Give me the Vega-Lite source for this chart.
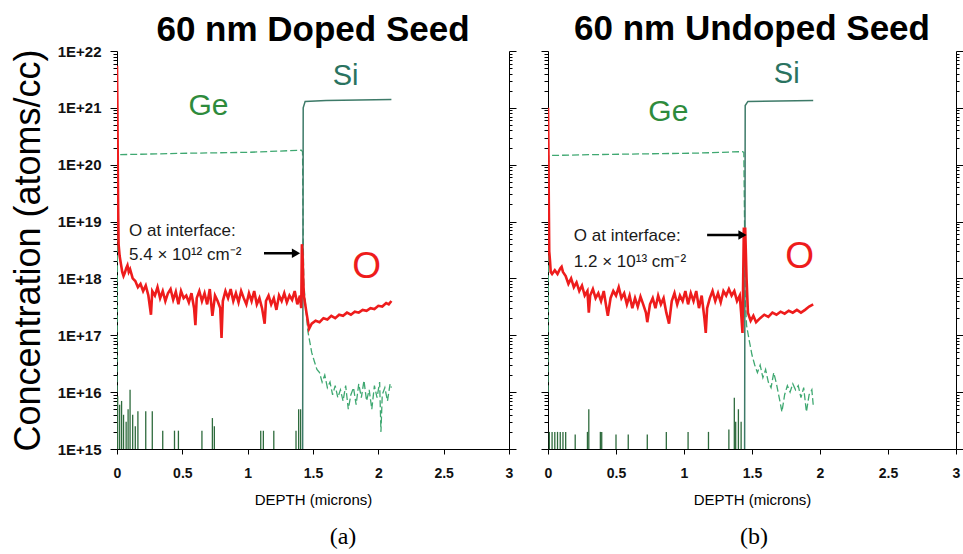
{
  "$schema": "https://vega.github.io/schema/vega-lite/v6.json",
  "background": "white",
  "padding": {"left": 10, "top": 11, "right": 5, "bottom": 5},
  "spacing": 23,
  "config": {
    "view": {"stroke": null},
    "axis": {"labelFont": "Liberation Sans", "titleFont": "Liberation Sans", "domainColor": "#000", "tickColor": "#000", "labelColor": "#111", "titleColor": "#000", "grid": false},
    "text": {"font": "Liberation Sans"}
  },
  "datasets": {
    "A": [
      {"s":"Ge","d":0,"c":1e16},{"s":"Ge","d":0.005,"c":1.5e20},{"s":"Ge","d":0.3,"c":1.55e20},{"s":"Ge","d":0.6,"c":1.6e20},{"s":"Ge","d":1.0,"c":1.65e20},{"s":"Ge","d":1.41,"c":1.8e20},{"s":"Ge","d":1.42,"c":1.7e20},{"s":"Ge","d":1.425,"c":5e18},{"s":"Ge","d":1.43,"c":8e17},{"s":"Ge","d":1.445,"c":3e17},{"s":"Ge","d":1.46,"c":1.2e17},{"s":"Ge","d":1.47,"c":9e16},{"s":"Ge","d":1.49,"c":5e16},{"s":"Ge","d":1.51,"c":3.5e16},{"s":"Ge","d":1.53,"c":2.5e16},{"s":"Ge","d":1.55,"c":2.2e16},{"s":"Ge","d":1.57,"c":1.5e16},{"s":"Ge","d":1.59,"c":2e16},{"s":"Ge","d":1.61,"c":1.2e16},{"s":"Ge","d":1.63,"c":1.5e16},{"s":"Ge","d":1.65,"c":9e15},{"s":"Ge","d":1.67,"c":1.3e16},{"s":"Ge","d":1.69,"c":8e15},{"s":"Ge","d":1.71,"c":1.1e16},{"s":"Ge","d":1.73,"c":7e15},{"s":"Ge","d":1.75,"c":1.3e16},{"s":"Ge","d":1.77,"c":5e15},{"s":"Ge","d":1.79,"c":9e15},{"s":"Ge","d":1.81,"c":1.2e16},{"s":"Ge","d":1.83,"c":6e15},{"s":"Ge","d":1.85,"c":1.4e16},{"s":"Ge","d":1.87,"c":8e15},{"s":"Ge","d":1.89,"c":1.6e16},{"s":"Ge","d":1.91,"c":7e15},{"s":"Ge","d":1.93,"c":1.1e16},{"s":"Ge","d":1.95,"c":5e15},{"s":"Ge","d":1.97,"c":1.3e16},{"s":"Ge","d":1.99,"c":8e15},{"s":"Ge","d":2.01,"c":1.5e16},{"s":"Ge","d":2.02,"c":2e15},{"s":"Ge","d":2.03,"c":9e15},{"s":"Ge","d":2.05,"c":1.2e16},{"s":"Ge","d":2.07,"c":7e15},{"s":"Ge","d":2.09,"c":1.4e16},{"s":"Ge","d":2.1,"c":1.2e16},
      {"s":"Si","d":1.42,"c":1e14},{"s":"Si","d":1.425,"c":1e21},{"s":"Si","d":1.44,"c":1.3e21},{"s":"Si","d":1.6,"c":1.35e21},{"s":"Si","d":2.1,"c":1.4e21},
      {"s":"O","d":0,"c":5.5e21},{"s":"O","d":0.003,"c":1e21},{"s":"O","d":0.006,"c":1e20},{"s":"O","d":0.009,"c":1.5e19},{"s":"O","d":0.012,"c":4e18},{"s":"O","d":0.02,"c":2.5e18},{"s":"O","d":0.03,"c":1.8e18},{"s":"O","d":0.04,"c":1.3e18},{"s":"O","d":0.05,"c":1.1e18},{"s":"O","d":0.06,"c":1.25e18},{"s":"O","d":0.07,"c":1.5e18},{"s":"O","d":0.08,"c":1.7e18},{"s":"O","d":0.09,"c":1.3e18},{"s":"O","d":0.1,"c":1.45e18},{"s":"O","d":0.12,"c":1e18},{"s":"O","d":0.14,"c":9e17},{"s":"O","d":0.16,"c":7e17},{"s":"O","d":0.18,"c":8e17},{"s":"O","d":0.2,"c":6e17},{"s":"O","d":0.22,"c":7.5e17},{"s":"O","d":0.24,"c":5e17},{"s":"O","d":0.26,"c":2.3e17},{"s":"O","d":0.27,"c":6e17},{"s":"O","d":0.29,"c":5e17},{"s":"O","d":0.31,"c":7e17},{"s":"O","d":0.33,"c":4.5e17},{"s":"O","d":0.35,"c":6e17},{"s":"O","d":0.37,"c":4e17},{"s":"O","d":0.39,"c":5.5e17},{"s":"O","d":0.41,"c":6.5e17},{"s":"O","d":0.43,"c":4.2e17},{"s":"O","d":0.45,"c":5.8e17},{"s":"O","d":0.47,"c":3.5e17},{"s":"O","d":0.49,"c":6e17},{"s":"O","d":0.51,"c":4.5e17},{"s":"O","d":0.53,"c":5e17},{"s":"O","d":0.55,"c":3.8e17},{"s":"O","d":0.57,"c":5.5e17},{"s":"O","d":0.59,"c":3e17},{"s":"O","d":0.6,"c":1.5e17},{"s":"O","d":0.61,"c":4.5e17},{"s":"O","d":0.63,"c":6e17},{"s":"O","d":0.65,"c":4e17},{"s":"O","d":0.67,"c":5.5e17},{"s":"O","d":0.69,"c":3.5e17},{"s":"O","d":0.71,"c":6.5e17},{"s":"O","d":0.73,"c":2.2e17},{"s":"O","d":0.75,"c":5e17},{"s":"O","d":0.77,"c":4e17},{"s":"O","d":0.79,"c":3e17},{"s":"O","d":0.8,"c":9e16},{"s":"O","d":0.81,"c":4e17},{"s":"O","d":0.83,"c":6e17},{"s":"O","d":0.85,"c":4.5e17},{"s":"O","d":0.87,"c":6.5e17},{"s":"O","d":0.89,"c":4e17},{"s":"O","d":0.91,"c":5.5e17},{"s":"O","d":0.93,"c":3.8e17},{"s":"O","d":0.95,"c":6e17},{"s":"O","d":0.97,"c":4.5e17},{"s":"O","d":0.99,"c":3.5e17},{"s":"O","d":1.01,"c":5.5e17},{"s":"O","d":1.03,"c":4e17},{"s":"O","d":1.05,"c":6e17},{"s":"O","d":1.07,"c":3.5e17},{"s":"O","d":1.09,"c":4.5e17},{"s":"O","d":1.11,"c":3e17},{"s":"O","d":1.13,"c":1.6e17},{"s":"O","d":1.14,"c":4e17},{"s":"O","d":1.16,"c":5e17},{"s":"O","d":1.18,"c":3.5e17},{"s":"O","d":1.2,"c":4.5e17},{"s":"O","d":1.22,"c":2.8e17},{"s":"O","d":1.24,"c":5e17},{"s":"O","d":1.26,"c":4e17},{"s":"O","d":1.28,"c":5.5e17},{"s":"O","d":1.3,"c":3.8e17},{"s":"O","d":1.32,"c":5e17},{"s":"O","d":1.34,"c":4.2e17},{"s":"O","d":1.36,"c":6e17},{"s":"O","d":1.38,"c":3.5e17},{"s":"O","d":1.4,"c":5e17},{"s":"O","d":1.41,"c":3e17},{"s":"O","d":1.415,"c":4e18},{"s":"O","d":1.42,"c":2.5e18},{"s":"O","d":1.425,"c":1e18},{"s":"O","d":1.43,"c":5e17},{"s":"O","d":1.45,"c":2.5e17},{"s":"O","d":1.47,"c":1.3e17},{"s":"O","d":1.49,"c":1.6e17},{"s":"O","d":1.52,"c":1.8e17},{"s":"O","d":1.55,"c":1.7e17},{"s":"O","d":1.58,"c":2e17},{"s":"O","d":1.61,"c":1.9e17},{"s":"O","d":1.64,"c":2.2e17},{"s":"O","d":1.67,"c":2e17},{"s":"O","d":1.7,"c":2.3e17},{"s":"O","d":1.73,"c":2.2e17},{"s":"O","d":1.76,"c":2.5e17},{"s":"O","d":1.79,"c":2.3e17},{"s":"O","d":1.82,"c":2.6e17},{"s":"O","d":1.85,"c":2.5e17},{"s":"O","d":1.88,"c":2.8e17},{"s":"O","d":1.91,"c":2.7e17},{"s":"O","d":1.94,"c":3e17},{"s":"O","d":1.97,"c":2.9e17},{"s":"O","d":2.0,"c":3.3e17},{"s":"O","d":2.03,"c":3.2e17},{"s":"O","d":2.06,"c":3.7e17},{"s":"O","d":2.08,"c":3.5e17},{"s":"O","d":2.1,"c":4e17},
      {"s":"spk","d":0.005,"c":8.5e15},{"s":"spk","d":0.02,"c":6e15},{"s":"spk","d":0.035,"c":7e15},{"s":"spk","d":0.05,"c":4e15},{"s":"spk","d":0.07,"c":3e15},{"s":"spk","d":0.085,"c":5e15},{"s":"spk","d":0.1,"c":1.1e16},{"s":"spk","d":0.12,"c":4e15},{"s":"spk","d":0.14,"c":2.5e15},{"s":"spk","d":0.16,"c":4.6e15},{"s":"spk","d":0.22,"c":4.6e15},{"s":"spk","d":0.27,"c":4.6e15},{"s":"spk","d":0.35,"c":2.1e15},{"s":"spk","d":0.44,"c":2.1e15},{"s":"spk","d":0.47,"c":2.1e15},{"s":"spk","d":0.65,"c":2.1e15},{"s":"spk","d":0.73,"c":3.5e15},{"s":"spk","d":0.745,"c":2.5e15},{"s":"spk","d":1.1,"c":2.1e15},{"s":"spk","d":1.12,"c":2.1e15},{"s":"spk","d":1.2,"c":2.1e15},{"s":"spk","d":1.37,"c":2.1e15},{"s":"spk","d":1.39,"c":5e15},{"s":"spk","d":1.405,"c":5e15}
    ],
    "B": [
      {"s":"Ge","d":0,"c":1e16},{"s":"Ge","d":0.005,"c":1.45e20},{"s":"Ge","d":0.3,"c":1.5e20},{"s":"Ge","d":0.7,"c":1.55e20},{"s":"Ge","d":1.1,"c":1.6e20},{"s":"Ge","d":1.43,"c":1.7e20},{"s":"Ge","d":1.44,"c":1.65e20},{"s":"Ge","d":1.445,"c":1e19},{"s":"Ge","d":1.45,"c":5e17},{"s":"Ge","d":1.46,"c":1.5e17},{"s":"Ge","d":1.48,"c":8e16},{"s":"Ge","d":1.5,"c":4.5e16},{"s":"Ge","d":1.52,"c":3e16},{"s":"Ge","d":1.54,"c":2.2e16},{"s":"Ge","d":1.56,"c":3e16},{"s":"Ge","d":1.58,"c":1.8e16},{"s":"Ge","d":1.6,"c":2.5e16},{"s":"Ge","d":1.62,"c":1.5e16},{"s":"Ge","d":1.64,"c":1.2e16},{"s":"Ge","d":1.66,"c":2.2e16},{"s":"Ge","d":1.68,"c":1.4e16},{"s":"Ge","d":1.7,"c":8e15},{"s":"Ge","d":1.72,"c":4.5e15},{"s":"Ge","d":1.74,"c":9e15},{"s":"Ge","d":1.76,"c":1.3e16},{"s":"Ge","d":1.78,"c":1e16},{"s":"Ge","d":1.8,"c":1.4e16},{"s":"Ge","d":1.82,"c":1.1e16},{"s":"Ge","d":1.84,"c":1.3e16},{"s":"Ge","d":1.86,"c":8e15},{"s":"Ge","d":1.88,"c":1.2e16},{"s":"Ge","d":1.9,"c":4.5e15},{"s":"Ge","d":1.92,"c":9e15},{"s":"Ge","d":1.94,"c":1.1e16},{"s":"Ge","d":1.95,"c":6e15},
      {"s":"Si","d":1.445,"c":1e14},{"s":"Si","d":1.45,"c":1.1e21},{"s":"Si","d":1.47,"c":1.3e21},{"s":"Si","d":1.95,"c":1.35e21},
      {"s":"O","d":0,"c":1e21},{"s":"O","d":0.003,"c":2e20},{"s":"O","d":0.006,"c":2e19},{"s":"O","d":0.009,"c":3e18},{"s":"O","d":0.015,"c":2e18},{"s":"O","d":0.02,"c":1.3e18},{"s":"O","d":0.03,"c":1.2e18},{"s":"O","d":0.05,"c":1.4e18},{"s":"O","d":0.07,"c":1.2e18},{"s":"O","d":0.09,"c":1.5e18},{"s":"O","d":0.1,"c":1.6e18},{"s":"O","d":0.11,"c":1.3e18},{"s":"O","d":0.13,"c":1.1e18},{"s":"O","d":0.15,"c":8e17},{"s":"O","d":0.17,"c":1e18},{"s":"O","d":0.19,"c":7e17},{"s":"O","d":0.21,"c":8.5e17},{"s":"O","d":0.23,"c":6e17},{"s":"O","d":0.25,"c":7.5e17},{"s":"O","d":0.27,"c":5e17},{"s":"O","d":0.29,"c":6e17},{"s":"O","d":0.3,"c":2.5e17},{"s":"O","d":0.31,"c":5e17},{"s":"O","d":0.33,"c":6.5e17},{"s":"O","d":0.35,"c":4.5e17},{"s":"O","d":0.37,"c":5.5e17},{"s":"O","d":0.39,"c":4e17},{"s":"O","d":0.41,"c":6e17},{"s":"O","d":0.43,"c":3e17},{"s":"O","d":0.44,"c":2.2e17},{"s":"O","d":0.46,"c":4.5e17},{"s":"O","d":0.48,"c":6e17},{"s":"O","d":0.5,"c":5e17},{"s":"O","d":0.52,"c":7e17},{"s":"O","d":0.54,"c":4.5e17},{"s":"O","d":0.56,"c":5.5e17},{"s":"O","d":0.58,"c":3.5e17},{"s":"O","d":0.6,"c":5e17},{"s":"O","d":0.62,"c":3e17},{"s":"O","d":0.64,"c":4.5e17},{"s":"O","d":0.66,"c":3.2e17},{"s":"O","d":0.68,"c":4.8e17},{"s":"O","d":0.7,"c":3.5e17},{"s":"O","d":0.72,"c":2.5e17},{"s":"O","d":0.73,"c":1.7e17},{"s":"O","d":0.75,"c":3.5e17},{"s":"O","d":0.77,"c":4.5e17},{"s":"O","d":0.79,"c":3e17},{"s":"O","d":0.81,"c":5e17},{"s":"O","d":0.83,"c":3.5e17},{"s":"O","d":0.85,"c":4.5e17},{"s":"O","d":0.87,"c":2.5e17},{"s":"O","d":0.89,"c":1.6e17},{"s":"O","d":0.91,"c":4e17},{"s":"O","d":0.93,"c":5.5e17},{"s":"O","d":0.95,"c":3.5e17},{"s":"O","d":0.97,"c":5e17},{"s":"O","d":0.99,"c":4e17},{"s":"O","d":1.01,"c":6e17},{"s":"O","d":1.03,"c":3.5e17},{"s":"O","d":1.05,"c":5.5e17},{"s":"O","d":1.07,"c":4e17},{"s":"O","d":1.09,"c":6e17},{"s":"O","d":1.11,"c":3e17},{"s":"O","d":1.13,"c":5e17},{"s":"O","d":1.15,"c":2e17},{"s":"O","d":1.16,"c":1.1e17},{"s":"O","d":1.17,"c":3e17},{"s":"O","d":1.19,"c":4.5e17},{"s":"O","d":1.21,"c":6e17},{"s":"O","d":1.23,"c":4e17},{"s":"O","d":1.25,"c":5.5e17},{"s":"O","d":1.27,"c":3.8e17},{"s":"O","d":1.29,"c":6e17},{"s":"O","d":1.31,"c":5e17},{"s":"O","d":1.33,"c":6.5e17},{"s":"O","d":1.35,"c":5e17},{"s":"O","d":1.37,"c":6e17},{"s":"O","d":1.39,"c":4e17},{"s":"O","d":1.41,"c":5e17},{"s":"O","d":1.42,"c":2.5e17},{"s":"O","d":1.43,"c":1.1e17},{"s":"O","d":1.44,"c":7.5e18},{"s":"O","d":1.45,"c":7.5e18},{"s":"O","d":1.46,"c":1e18},{"s":"O","d":1.47,"c":2.5e17},{"s":"O","d":1.49,"c":1.8e17},{"s":"O","d":1.51,"c":2.2e17},{"s":"O","d":1.53,"c":1.7e17},{"s":"O","d":1.56,"c":2e17},{"s":"O","d":1.59,"c":2.3e17},{"s":"O","d":1.62,"c":2.1e17},{"s":"O","d":1.65,"c":2.5e17},{"s":"O","d":1.68,"c":2.3e17},{"s":"O","d":1.71,"c":2.6e17},{"s":"O","d":1.74,"c":2.4e17},{"s":"O","d":1.77,"c":2.7e17},{"s":"O","d":1.8,"c":2.5e17},{"s":"O","d":1.83,"c":2.8e17},{"s":"O","d":1.86,"c":2.5e17},{"s":"O","d":1.89,"c":2.8e17},{"s":"O","d":1.92,"c":3.2e17},{"s":"O","d":1.95,"c":3.5e17},
      {"s":"spk","d":0.01,"c":2e15},{"s":"spk","d":0.03,"c":2e15},{"s":"spk","d":0.05,"c":2e15},{"s":"spk","d":0.07,"c":2e15},{"s":"spk","d":0.09,"c":2e15},{"s":"spk","d":0.11,"c":2e15},{"s":"spk","d":0.13,"c":2e15},{"s":"spk","d":0.2,"c":1.8e15},{"s":"spk","d":0.29,"c":2e15},{"s":"spk","d":0.3,"c":5e15},{"s":"spk","d":0.385,"c":2e15},{"s":"spk","d":0.395,"c":2e15},{"s":"spk","d":0.5,"c":1.8e15},{"s":"spk","d":0.59,"c":1.8e15},{"s":"spk","d":0.73,"c":1.8e15},{"s":"spk","d":0.87,"c":2e15},{"s":"spk","d":1.03,"c":2e15},{"s":"spk","d":1.18,"c":2e15},{"s":"spk","d":1.33,"c":2.2e15},{"s":"spk","d":1.37,"c":8e15},{"s":"spk","d":1.38,"c":3e15},{"s":"spk","d":1.4,"c":5e15},{"s":"spk","d":1.42,"c":3e15}
    ],
    "LA": [
      {"k":"ge","t":"Ge","d":0.7,"c":1.07e21},
      {"k":"si","t":"Si","d":1.75,"c":3.7e21},
      {"k":"o","t":"O","d":1.91,"c":1.6e18},
      {"k":"note","t":"O at interface:","d":0.092,"c":6.8e18},
      {"k":"note","t":"5.4 × 10¹² cm⁻²","d":0.092,"c":2.57e18},
      {"k":"arrow","t":"","d":1.125,"d2":1.37,"c":2.76e18}
    ],
    "LB": [
      {"k":"ge","t":"Ge","d":0.885,"c":8.5e20},
      {"k":"si","t":"Si","d":1.755,"c":3.9e21},
      {"k":"o","t":"O","d":1.85,"c":2.4e18},
      {"k":"note","t":"O at interface:","d":0.19,"c":5.5e18},
      {"k":"note","t":"1.2 × 10¹³ cm⁻²","d":0.19,"c":1.95e18},
      {"k":"arrow","t":"","d":1.17,"d2":1.43,"c":5.8e18}
    ]
  },
  "hconcat": [
    {
      "title": {"text": "(a)", "orient": "bottom", "font": "Liberation Serif", "fontSize": 24, "fontWeight": "normal", "color": "#000", "offset": 18, "anchor": "middle", "frame": "group", "dx": 226},
      "vconcat": [
        {
          "width": 392, "height": 398,
          "title": {"text": "60 nm Doped Seed", "font": "Liberation Sans", "fontSize": 35, "fontWeight": "bold", "color": "#000", "frame": "group", "anchor": "middle", "offset": -4},
          "data": {"name": "A"},
          "encoding": {
            "x": {"field": "d", "type": "quantitative", "scale": {"domain": [0, 3], "nice": false},
                  "axis": {"values": [0, 0.5, 1, 1.5, 2, 2.5, 3], "format": "~g", "title": "DEPTH (microns)", "labelFontSize": 14, "labelFontWeight": "bold", "labelPadding": 12, "tickSize": 5, "titleFontSize": 15, "titleFontWeight": "normal", "titlePadding": 12, "labelFlush": false}}
          },
          "layer": [
            {"transform": [{"filter": "datum.s === 'Ge'"}],
             "mark": {"type": "line", "clip": true, "color": "#3fa871", "strokeWidth": 1.3, "strokeDash": [7, 3]},
             "encoding": {"y": {"field": "c", "type": "quantitative", "scale": {"type": "log", "domain": [1e15, 1e22], "nice": false},
               "axis": {"orient": "left", "title": "Concentration (atoms/cc)", "titleFontSize": 36, "titleFontWeight": "normal", "titlePadding": 10, "labelFontSize": 15, "labelFontWeight": "bold", "labelPadding": 9, "labelOverlap": false, "labelFlush": false,
                 "values": [1e15,2e15,3e15,4e15,5e15,6e15,7e15,8e15,9e15,1e16,2e16,3e16,4e16,5e16,6e16,7e16,8e16,9e16,1e17,2e17,3e17,4e17,5e17,6e17,7e17,8e17,9e17,1e18,2e18,3e18,4e18,5e18,6e18,7e18,8e18,9e18,1e19,2e19,3e19,4e19,5e19,6e19,7e19,8e19,9e19,1e20,2e20,3e20,4e20,5e20,6e20,7e20,8e20,9e20,1e21,2e21,3e21,4e21,5e21,6e21,7e21,8e21,9e21,1e22],
                 "labelExpr": "abs(log(datum.value)/LN10 - round(log(datum.value)/LN10)) < 0.001 ? '1E+' + round(log(datum.value)/LN10) : ''",
                 "tickSize": {"condition": {"test": "abs(log(datum.value)/LN10 - round(log(datum.value)/LN10)) < 0.001", "value": 7}, "value": 4}}}}},
            {"transform": [{"filter": "datum.s === 'Si'"}],
             "mark": {"type": "line", "clip": true, "color": "#3d7a68", "strokeWidth": 1.5},
             "encoding": {"y": {"field": "c", "type": "quantitative",
               "axis": {"orient": "right", "title": null, "labels": false,
                 "values": [1e15,2e15,3e15,4e15,5e15,6e15,7e15,8e15,9e15,1e16,2e16,3e16,4e16,5e16,6e16,7e16,8e16,9e16,1e17,2e17,3e17,4e17,5e17,6e17,7e17,8e17,9e17,1e18,2e18,3e18,4e18,5e18,6e18,7e18,8e18,9e18,1e19,2e19,3e19,4e19,5e19,6e19,7e19,8e19,9e19,1e20,2e20,3e20,4e20,5e20,6e20,7e20,8e20,9e20,1e21,2e21,3e21,4e21,5e21,6e21,7e21,8e21,9e21,1e22],
                 "tickSize": {"condition": {"test": "abs(log(datum.value)/LN10 - round(log(datum.value)/LN10)) < 0.001", "value": 7}, "value": 3}}}}},
            {"transform": [{"filter": "datum.s === 'spk'"}],
             "mark": {"type": "rule", "clip": true, "color": "#2e6b3d", "strokeWidth": 1.3},
             "encoding": {"y": {"field": "c", "type": "quantitative", "axis": null}, "y2": {"datum": 1e15}}},
            {"transform": [{"filter": "datum.s === 'O'"}],
             "mark": {"type": "line", "clip": true, "color": "#ee1c1c", "strokeWidth": 2.6},
             "encoding": {"y": {"field": "c", "type": "quantitative", "axis": null}}},
            {"data": {"name": "LA"}, "transform": [{"filter": "datum.k === 'ge'"}],
             "mark": {"type": "text", "fontSize": 30, "color": "#2e8b3c", "align": "center", "baseline": "middle"},
             "encoding": {"y": {"field": "c", "type": "quantitative", "axis": null}, "text": {"field": "t"}}},
            {"data": {"name": "LA"}, "transform": [{"filter": "datum.k === 'si'"}],
             "mark": {"type": "text", "fontSize": 29, "color": "#2a7360", "align": "center", "baseline": "middle"},
             "encoding": {"y": {"field": "c", "type": "quantitative", "axis": null}, "text": {"field": "t"}}},
            {"data": {"name": "LA"}, "transform": [{"filter": "datum.k === 'o'"}],
             "mark": {"type": "text", "fontSize": 37, "color": "#ee1c1c", "align": "center", "baseline": "middle"},
             "encoding": {"y": {"field": "c", "type": "quantitative", "axis": null}, "text": {"field": "t"}}},
            {"data": {"name": "LA"}, "transform": [{"filter": "datum.k === 'note'"}],
             "mark": {"type": "text", "fontSize": 17, "color": "#1a1a1a", "align": "left", "baseline": "middle"},
             "encoding": {"y": {"field": "c", "type": "quantitative", "axis": null}, "text": {"field": "t"}}},
            {"data": {"name": "LA"}, "transform": [{"filter": "datum.k === 'arrow'"}],
             "mark": {"type": "rule", "color": "#000", "strokeWidth": 2.5},
             "encoding": {"y": {"field": "c", "type": "quantitative", "axis": null}, "x2": {"field": "d2"}}},
            {"data": {"name": "LA"}, "transform": [{"filter": "datum.k === 'arrow'"}],
             "mark": {"type": "point", "shape": "triangle-right", "filled": true, "color": "#000", "opacity": 1, "size": 90},
             "encoding": {"x": {"field": "d2", "type": "quantitative"}, "y": {"field": "c", "type": "quantitative", "axis": null}}}
          ],
          "resolve": {"axis": {"y": "independent"}}
        }
      ]
    },
    {
      "title": {"text": "(b)", "orient": "bottom", "font": "Liberation Serif", "fontSize": 24, "fontWeight": "normal", "color": "#000", "offset": 18, "anchor": "middle", "frame": "group", "dx": 206},
      "vconcat": [
        {
          "width": 408, "height": 398,
          "title": {"text": "60 nm Undoped Seed", "font": "Liberation Sans", "fontSize": 35, "fontWeight": "bold", "color": "#000", "frame": "group", "anchor": "middle", "offset": 4},
          "data": {"name": "B"},
          "encoding": {
            "x": {"field": "d", "type": "quantitative", "scale": {"domain": [0, 3], "nice": false},
                  "axis": {"values": [0, 0.5, 1, 1.5, 2, 2.5, 3], "format": "~g", "title": "DEPTH (microns)", "labelFontSize": 14, "labelFontWeight": "bold", "labelPadding": 12, "tickSize": 5, "titleFontSize": 15, "titleFontWeight": "normal", "titlePadding": 12, "labelFlush": false}}
          },
          "layer": [
            {"transform": [{"filter": "datum.s === 'Ge'"}],
             "mark": {"type": "line", "clip": true, "color": "#3fa871", "strokeWidth": 1.3, "strokeDash": [7, 3]},
             "encoding": {"y": {"field": "c", "type": "quantitative", "scale": {"type": "log", "domain": [1e15, 1e22], "nice": false},
               "axis": {"orient": "left", "title": null, "labels": false,
                 "values": [1e15,2e15,3e15,4e15,5e15,6e15,7e15,8e15,9e15,1e16,2e16,3e16,4e16,5e16,6e16,7e16,8e16,9e16,1e17,2e17,3e17,4e17,5e17,6e17,7e17,8e17,9e17,1e18,2e18,3e18,4e18,5e18,6e18,7e18,8e18,9e18,1e19,2e19,3e19,4e19,5e19,6e19,7e19,8e19,9e19,1e20,2e20,3e20,4e20,5e20,6e20,7e20,8e20,9e20,1e21,2e21,3e21,4e21,5e21,6e21,7e21,8e21,9e21,1e22],
                 "tickSize": {"condition": {"test": "abs(log(datum.value)/LN10 - round(log(datum.value)/LN10)) < 0.001", "value": 7}, "value": 4}}}}},
            {"transform": [{"filter": "datum.s === 'Si'"}],
             "mark": {"type": "line", "clip": true, "color": "#3d7a68", "strokeWidth": 1.5},
             "encoding": {"y": {"field": "c", "type": "quantitative",
               "axis": {"orient": "right", "title": null, "labels": false,
                 "values": [1e15,2e15,3e15,4e15,5e15,6e15,7e15,8e15,9e15,1e16,2e16,3e16,4e16,5e16,6e16,7e16,8e16,9e16,1e17,2e17,3e17,4e17,5e17,6e17,7e17,8e17,9e17,1e18,2e18,3e18,4e18,5e18,6e18,7e18,8e18,9e18,1e19,2e19,3e19,4e19,5e19,6e19,7e19,8e19,9e19,1e20,2e20,3e20,4e20,5e20,6e20,7e20,8e20,9e20,1e21,2e21,3e21,4e21,5e21,6e21,7e21,8e21,9e21,1e22],
                 "tickSize": {"condition": {"test": "abs(log(datum.value)/LN10 - round(log(datum.value)/LN10)) < 0.001", "value": 7}, "value": 3}}}}},
            {"transform": [{"filter": "datum.s === 'spk'"}],
             "mark": {"type": "rule", "clip": true, "color": "#2e6b3d", "strokeWidth": 1.3},
             "encoding": {"y": {"field": "c", "type": "quantitative", "axis": null}, "y2": {"datum": 1e15}}},
            {"transform": [{"filter": "datum.s === 'O'"}],
             "mark": {"type": "line", "clip": true, "color": "#ee1c1c", "strokeWidth": 2.6},
             "encoding": {"y": {"field": "c", "type": "quantitative", "axis": null}}},
            {"data": {"name": "LB"}, "transform": [{"filter": "datum.k === 'ge'"}],
             "mark": {"type": "text", "fontSize": 30, "color": "#2e8b3c", "align": "center", "baseline": "middle"},
             "encoding": {"y": {"field": "c", "type": "quantitative", "axis": null}, "text": {"field": "t"}}},
            {"data": {"name": "LB"}, "transform": [{"filter": "datum.k === 'si'"}],
             "mark": {"type": "text", "fontSize": 29, "color": "#2a7360", "align": "center", "baseline": "middle"},
             "encoding": {"y": {"field": "c", "type": "quantitative", "axis": null}, "text": {"field": "t"}}},
            {"data": {"name": "LB"}, "transform": [{"filter": "datum.k === 'o'"}],
             "mark": {"type": "text", "fontSize": 37, "color": "#ee1c1c", "align": "center", "baseline": "middle"},
             "encoding": {"y": {"field": "c", "type": "quantitative", "axis": null}, "text": {"field": "t"}}},
            {"data": {"name": "LB"}, "transform": [{"filter": "datum.k === 'note'"}],
             "mark": {"type": "text", "fontSize": 17, "color": "#1a1a1a", "align": "left", "baseline": "middle"},
             "encoding": {"y": {"field": "c", "type": "quantitative", "axis": null}, "text": {"field": "t"}}},
            {"data": {"name": "LB"}, "transform": [{"filter": "datum.k === 'arrow'"}],
             "mark": {"type": "rule", "color": "#000", "strokeWidth": 2.5},
             "encoding": {"y": {"field": "c", "type": "quantitative", "axis": null}, "x2": {"field": "d2"}}},
            {"data": {"name": "LB"}, "transform": [{"filter": "datum.k === 'arrow'"}],
             "mark": {"type": "point", "shape": "triangle-right", "filled": true, "color": "#000", "opacity": 1, "size": 90},
             "encoding": {"x": {"field": "d2", "type": "quantitative"}, "y": {"field": "c", "type": "quantitative", "axis": null}}}
          ],
          "resolve": {"axis": {"y": "independent"}}
        }
      ]
    }
  ]
}
